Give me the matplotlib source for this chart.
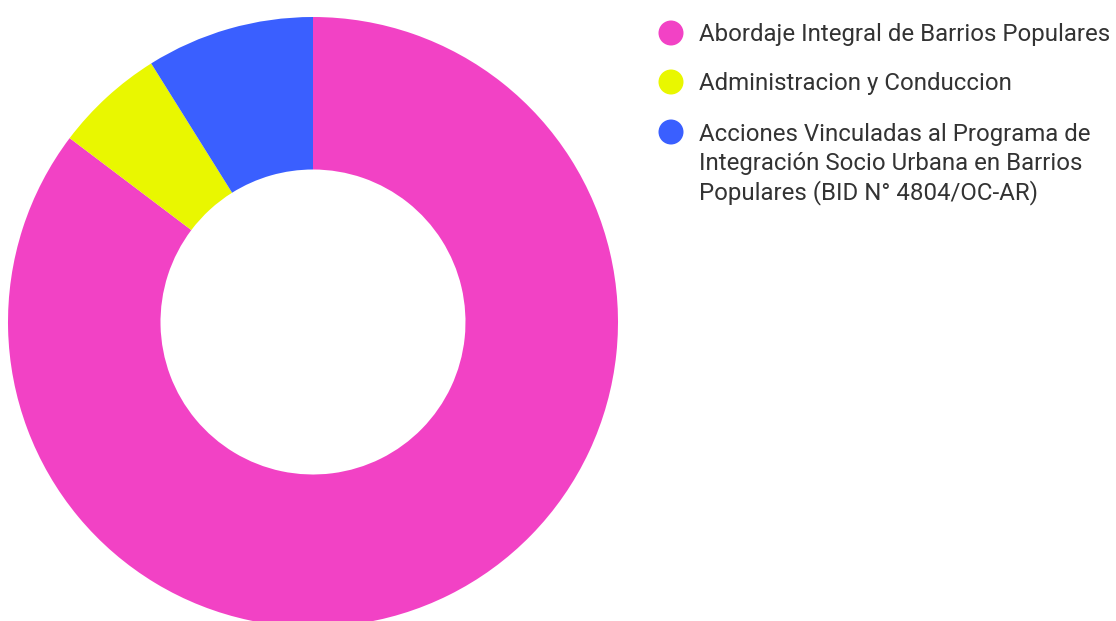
import matplotlib.pyplot as plt
from matplotlib.patches import Ellipse

plt.rcParams['font.family'] = ['Roboto', 'DejaVu Sans']

labels = [
    "Abordaje Integral de Barrios Populares",
    "Administracion y Conduccion",
    "Acciones Vinculadas al Programa de\nIntegración Socio Urbana en Barrios\nPopulares (BID N° 4804/OC-AR)",
]
shares = [85.3, 5.8, 8.9]
colors = ["#f242c5", "#e9f700", "#3a5fff"]

W, H = 1116, 621
fig = plt.figure(figsize=(W / 100, H / 100), dpi=100)

# donut, placed in pixel coords
cx, cy, r = 313, 322, 305
ax = fig.add_axes([(cx - r) / W, (H - cy - r) / H, 2 * r / W, 2 * r / H])
ax.pie(shares, colors=colors, startangle=90, counterclock=False, radius=1,
       wedgeprops=dict(width=0.5, linewidth=0))
ax.set_xlim(-1, 1)
ax.set_ylim(-1, 1)
ax.set_aspect('equal')
ax.axis('off')

# legend drawn by hand
marker_y = [33, 82, 132]
first_base = [41, 90, 141]
line_gap = 29.2
for lab, col, my, by in zip(labels, colors, marker_y, first_base):
    fig.patches.append(Ellipse((671 / W, 1 - my / H), 25 / W, 25 / H,
                               transform=fig.transFigure,
                               facecolor=col, edgecolor='none'))
    for i, line in enumerate(lab.split("\n")):
        fig.text(699 / W, 1 - (by + i * line_gap) / H, line, fontsize=17.3,
                 color='#333333', va='baseline', ha='left')

fig.savefig("out.png", dpi=100)
